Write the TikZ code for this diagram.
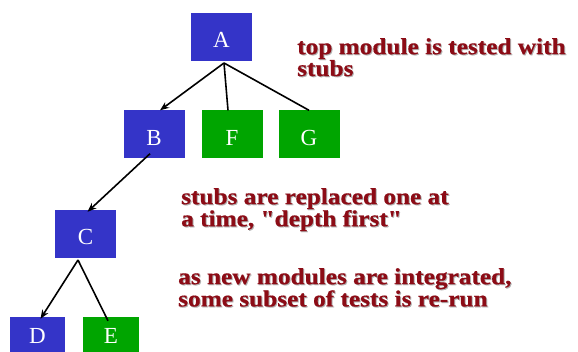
\documentclass[tikz,border=0pt]{standalone}
\usepackage{fontspec}
\setmainfont{Liberation Serif}
\newfontfamily\notefont[FakeStretch=1.1,FakeBold=0.6]{Liberation Serif Bold}
\usetikzlibrary{arrows.meta}
\definecolor{boxblue}{RGB}{52,52,200}
\definecolor{boxgreen}{RGB}{0,165,0}
\definecolor{txtred}{RGB}{140,12,22}
\begin{document}
\begin{tikzpicture}[x=1pt,y=-1pt,
  mod/.style={minimum width=61pt,minimum height=48pt,inner sep=0pt,text=white,text height=22pt,text depth=0pt,font=\fontsize{23}{23}\selectfont},
  bmod/.style={mod,fill=boxblue},
  gmod/.style={mod,fill=boxgreen},
  note/.style={anchor=north west,align=left,inner sep=0pt,text=txtred,font=\notefont\fontsize{23}{19.5}\selectfont},
  shade/.style={note,text=black!30},
  conn/.style={line width=1.6pt,black},
  arr/.style={conn,-{Stealth[length=9pt,width=7pt]}}]
\useasboundingbox (0,0) rectangle (578,352);
\node[bmod] (A) at (221.5,37) {A};
\node[bmod] (B) at (154,134.5) {B};
\node[gmod] (F) at (232,134.5) {F};
\node[gmod] (G) at (309,134.5) {G};
\node[bmod] (C) at (85.5,234) {C};
\node[bmod,minimum width=55pt,minimum height=36pt,text height=18pt] (D) at (37.5,335) {D};
\node[gmod,minimum width=56pt,minimum height=36pt,text height=18pt] (E) at (111,335) {E};
\coordinate (a0) at (224,63);
\coordinate (c0) at (78,260);
\draw[arr] (a0) -- ([xshift=6pt]B.north);
\draw[conn] (a0) -- ([xshift=-4pt]F.north);
\draw[conn] (a0) -- (G.north);
\draw[arr] ([xshift=-4pt,yshift=5pt]B.south) -- ([xshift=2pt,yshift=-2pt]C.north);
\draw[arr] (c0) -- ([xshift=3pt,yshift=-2pt]D.north);
\draw[conn] (c0) -- ([xshift=-3pt,yshift=-4pt]E.north);
\node[shade] at (298,39) {top module is tested with\\stubs};
\node[note] (n1) at (297,38) {top module is tested with\\stubs};
\node[shade] at (182,189) {stubs are replaced one at\\a time, \char34 depth first\char34};
\node[note] (n2) at (181,188) {stubs are replaced one at\\a time, \char34 depth first\char34};
\node[shade] at (179,269) {as new modules are integrated,\\some subset of tests is re-run};
\node[note] (n3) at (178,268) {as new modules are integrated,\\some subset of tests is re-run};
\end{tikzpicture}
\end{document}
